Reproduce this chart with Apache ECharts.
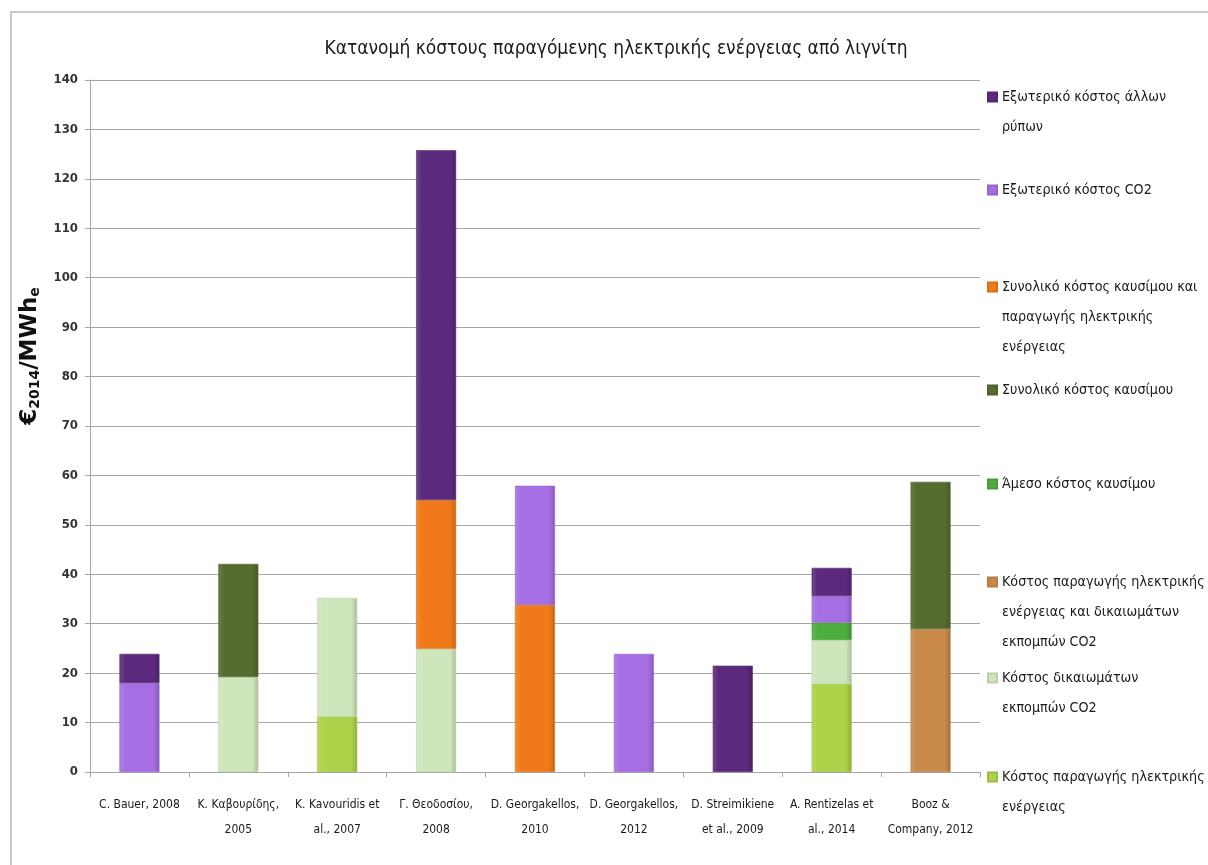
<!DOCTYPE html>
<html>
<head>
<meta charset="utf-8">
<script src="https://cdn.jsdelivr.net/npm/echarts@6/dist/echarts.min.js"></script>
<style>
  html, body { margin: 0; padding: 0; background: #fff; }
  #chart { width: 1208px; height: 865px; }
</style>
</head>
<body>
<div id="chart"></div>
<script>
// Studies (x-axis categories), two-line labels
const categories = [
  'C. Bauer, 2008',
  'Κ. Καβουρίδης,\n2005',
  'K. Kavouridis et\nal., 2007',
  'Γ. Θεοδοσίου,\n2008',
  'D. Georgakellos,\n2010',
  'D. Georgakellos,\n2012',
  'D. Streimikiene\net al., 2009',
  'A. Rentizelas et\nal., 2014',
  'Booz &\nCompany, 2012'
];

// Cost components, €2014/MWhe ('-' = not reported)
const prodCost        = ['-', '-', 11.2, '-', '-', '-', '-', 17.8, '-'];
const allowanceCost   = ['-', 19.2, 24.0, 24.9, '-', '-', '-', 8.9, '-'];
const prodAllowCost   = ['-', '-', '-', '-', '-', '-', '-', '-', 28.9];
const directFuelCost  = ['-', '-', '-', '-', '-', '-', '-', 3.5, '-'];
const totalFuelCost   = ['-', 22.9, '-', '-', '-', '-', '-', '-', 29.8];
const fuelProdCost    = ['-', '-', '-', 30.1, 33.8, '-', '-', '-', '-'];
const extCO2Cost      = [18.0, '-', '-', '-', 24.1, 23.9, '-', 5.4, '-'];
const extOtherCost    = [5.9, '-', '-', 70.8, '-', '-', 21.5, 5.7, '-'];

// Series names, bottom of the stack first
const seriesNames = [
  'Κόστος παραγωγής ηλεκτρικής ενέργειας',
  'Κόστος δικαιωμάτων εκπομπών CO2',
  'Κόστος παραγωγής ηλεκτρικής ενέργειας και δικαιωμάτων εκπομπών CO2',
  'Άμεσο κόστος καυσίμου',
  'Συνολικό κόστος καυσίμου',
  'Συνολικό κόστος καυσίμου και παραγωγής ηλεκτρικής ενέργειας',
  'Εξωτερικό κόστος CO2',
  'Εξωτερικό κόστος άλλων ρύπων'
];
const seriesData = [prodCost, allowanceCost, prodAllowCost, directFuelCost,
                    totalFuelCost, fuelProdCost, extCO2Cost, extOtherCost];
const seriesColors = ['#aed24a', '#cfe6bd', '#c98a4b', '#4dae3d',
                      '#566c2e', '#f07a19', '#a56ee3', '#5b2a7c'];

// Wrapped legend text per series
const legendLines = [
  ['Κόστος παραγωγής ηλεκτρικής', 'ενέργειας'],
  ['Κόστος δικαιωμάτων', 'εκπομπών CO2'],
  ['Κόστος παραγωγής ηλεκτρικής', 'ενέργειας και δικαιωμάτων', 'εκπομπών CO2'],
  ['Άμεσο κόστος καυσίμου'],
  ['Συνολικό κόστος καυσίμου'],
  ['Συνολικό κόστος καυσίμου και', 'παραγωγής ηλεκτρικής', 'ενέργειας'],
  ['Εξωτερικό κόστος CO2'],
  ['Εξωτερικό κόστος άλλων', 'ρύπων']
];
// vertical position of each legend entry's first line
const legendFirstLineY = [777, 678, 582, 484, 390, 287, 190, 97];

const FONT = "'DejaVu Sans Condensed', 'DejaVu Sans', sans-serif";
const LEGEND_LH = 30;

function mix(hex, target, t) {
  const c = [1, 3, 5].map(i => parseInt(hex.slice(i, i + 2), 16));
  const r = c.map(v => Math.round(v + (target - v) * t));
  return 'rgb(' + r.join(',') + ')';
}
function barFill(hex) {
  return new echarts.graphic.LinearGradient(0, 0, 1, 0, [
    { offset: 0, color: mix(hex, 255, 0.12) },
    { offset: 0.15, color: hex },
    { offset: 0.85, color: hex },
    { offset: 1, color: mix(hex, 0, 0.18) }
  ]);
}

const legends = seriesNames.map((name, i) => {
  const n = legendLines[i].length;
  const total = 2 * n - 1;
  return {
    orient: 'vertical',
    left: 987,
    top: legendFirstLineY[i] - total * LEGEND_LH / 2,
    padding: 0,
    itemWidth: 9,
    itemHeight: 9,
    icon: 'rect',
    selectedMode: false,
    data: [name],
    formatter: () => '\n'.repeat(n - 1) + legendLines[i].join('\n'),
    textStyle: { fontFamily: FONT, fontSize: 14.2, color: '#1a1a1a', lineHeight: LEGEND_LH }
  };
});

const series = seriesNames.map((name, i) => ({
  name: name,
  type: 'bar',
  stack: 'cost',
  barWidth: 40,
  data: seriesData[i],
  itemStyle: {
    color: barFill(seriesColors[i]),
    borderColor: mix(seriesColors[i], 0, 0.1),
    borderWidth: 0.6
  },
  emphasis: { disabled: true }
}));

const chart = echarts.init(document.getElementById('chart'), null, { renderer: 'canvas' });
chart.setOption({
  backgroundColor: '#fff',
  animation: false,
  title: {
    text: 'Κατανομή κόστους παραγόμενης ηλεκτρικής ενέργειας από λιγνίτη',
    left: 611,
    top: 35,
    textAlign: 'center',
    textStyle: { fontFamily: FONT, fontSize: 19, fontWeight: 'normal', color: '#1a1a1a' }
  },
  graphic: [{
    type: 'rect',
    shape: { x: 11, y: 12, width: 1300, height: 1000 },
    style: { fill: 'none', stroke: '#c9c9c9', lineWidth: 2 },
    silent: true
  }],
  legend: legends,
  grid: { left: 90, right: 228, top: 80, bottom: 93 },
  xAxis: {
    type: 'category',
    data: categories,
    axisLine: { lineStyle: { color: '#a6a6a6', width: 1 } },
    axisTick: { show: true, alignWithLabel: false, length: 5, lineStyle: { color: '#a6a6a6' } },
    axisLabel: {
      interval: 0,
      margin: 20,
      fontFamily: FONT,
      fontSize: 12,
      lineHeight: 25,
      color: '#1a1a1a'
    }
  },
  yAxis: {
    type: 'value',
    min: 0,
    max: 140,
    interval: 10,
    name: '{b|€}{s|2014}{b|/MWh}{s|e}',
    nameLocation: 'middle',
    nameGap: 38,
    nameRotate: 90,
    nameTextStyle: {
      padding: [0, 0, 0, 140],
      rich: {
        b: { fontFamily: "'DejaVu Sans', sans-serif", fontSize: 23, fontWeight: 'bold', color: '#111' },
        s: { fontFamily: "'DejaVu Sans', sans-serif", fontSize: 14, fontWeight: 'bold', color: '#111', padding: [12, 0, 0, 0] }
      }
    },
    axisLine: { show: true, lineStyle: { color: '#a6a6a6', width: 1 } },
    axisTick: { show: true, length: 5, lineStyle: { color: '#a6a6a6' } },
    axisLabel: { margin: 12, fontFamily: FONT, fontSize: 13, color: '#333', fontWeight: 'bold' },
    splitLine: { lineStyle: { color: '#a6a6a6', width: 1 } }
  },
  series: series
});
</script>
</body>
</html>
